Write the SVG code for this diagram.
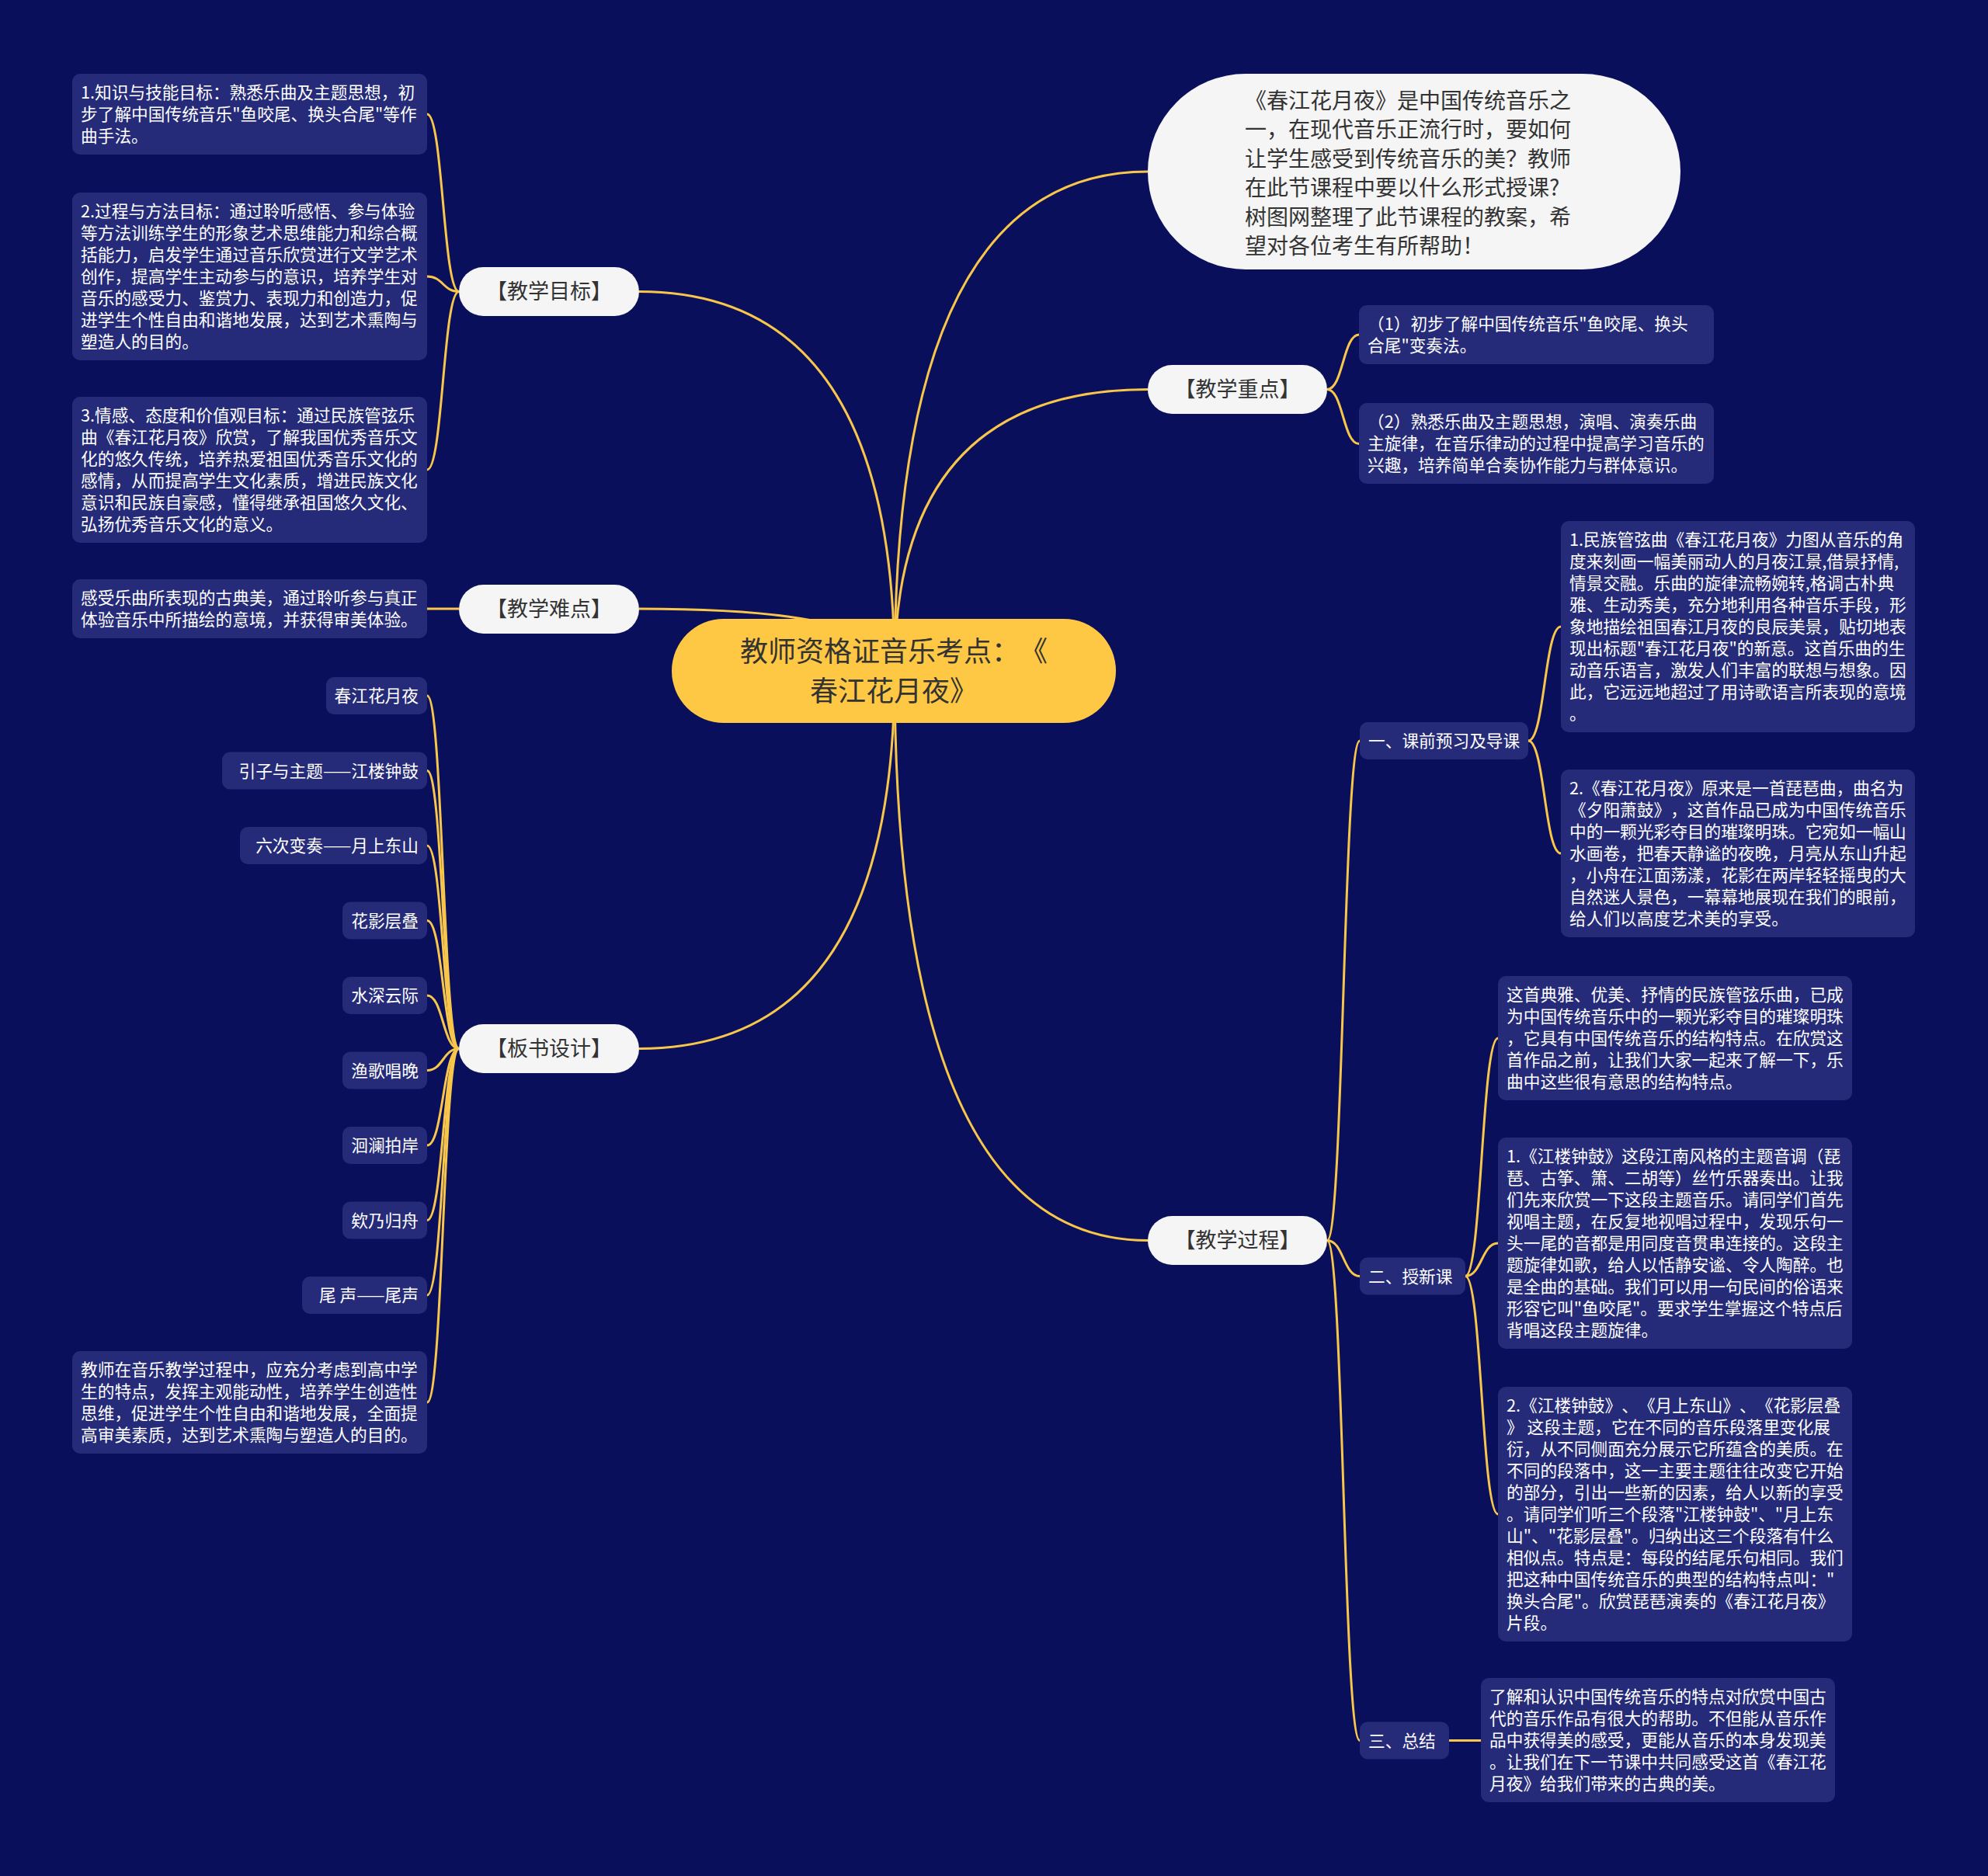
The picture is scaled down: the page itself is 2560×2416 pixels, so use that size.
<svg xmlns="http://www.w3.org/2000/svg" width="2560" height="2416" viewBox="0 0 2560 2416">
<style>
text{font-family:"Noto Sans CJK SC","Noto Sans",sans-serif;text-spacing-trim:space-all}
.box{fill:#252b78}
.bt{fill:#ffffff;font-size:21.7px}
.bte{fill:#ffffff;font-size:21.7px;text-anchor:end}
.mn{fill:#f5f5f5}
.mt{fill:#333333;font-size:27px;text-anchor:middle}
.ln{fill:none;stroke:#f7c64a;stroke-width:3}
</style>
<rect width="2560" height="2416" fill="#0a0f5b"/>
<g id="connectors">
<path class="ln" d="M1152,864 Q1152,221 1478,221"/>
<path class="ln" d="M1152,864 Q1152,501.5 1478,501.5"/>
<path class="ln" d="M1152,864 Q1152,1597.5 1478,1597.5"/>
<path class="ln" d="M1152,864 Q1152,375.5 823,375.5"/>
<path class="ln" d="M1152,864 Q1152,784 823,784"/>
<path class="ln" d="M1152,864 Q1152,1350.5 823,1350.5"/>
<path class="ln" d="M591,375.5 C570.5,375.5 570.5,147 550,147"/>
<path class="ln" d="M591,375.5 C570.5,375.5 570.5,356 550,356"/>
<path class="ln" d="M591,375.5 C570.5,375.5 570.5,605 550,605"/>
<path class="ln" d="M591,784 L550,784"/>
<path class="ln" d="M591,1350.5 C570.5,1350.5 570.5,896 550,896"/>
<path class="ln" d="M591,1350.5 C570.5,1350.5 570.5,992.5 550,992.5"/>
<path class="ln" d="M591,1350.5 C570.5,1350.5 570.5,1089 550,1089"/>
<path class="ln" d="M591,1350.5 C570.5,1350.5 570.5,1185.5 550,1185.5"/>
<path class="ln" d="M591,1350.5 C570.5,1350.5 570.5,1282 550,1282"/>
<path class="ln" d="M591,1350.5 C570.5,1350.5 570.5,1378.5 550,1378.5"/>
<path class="ln" d="M591,1350.5 C570.5,1350.5 570.5,1475 550,1475"/>
<path class="ln" d="M591,1350.5 C570.5,1350.5 570.5,1571.5 550,1571.5"/>
<path class="ln" d="M591,1350.5 C570.5,1350.5 570.5,1668 550,1668"/>
<path class="ln" d="M591,1350.5 C570.5,1350.5 570.5,1806 550,1806"/>
<path class="ln" d="M1709,501.5 C1729.5,501.5 1729.5,431 1750,431"/>
<path class="ln" d="M1709,501.5 C1729.5,501.5 1729.5,571.5 1750,571.5"/>
<path class="ln" d="M1709,1597.5 C1730,1597.5 1730,954 1751,954"/>
<path class="ln" d="M1709,1597.5 C1730,1597.5 1730,1643.5 1751,1643.5"/>
<path class="ln" d="M1709,1597.5 C1730,1597.5 1730,2241.5 1751,2241.5"/>
<path class="ln" d="M1968,954 C1989,954 1989,807 2010,807"/>
<path class="ln" d="M1968,954 C1989,954 1989,1099 2010,1099"/>
<path class="ln" d="M1887,1643.5 C1908,1643.5 1908,1337 1929,1337"/>
<path class="ln" d="M1887,1643.5 C1908,1643.5 1908,1601 1929,1601"/>
<path class="ln" d="M1887,1643.5 C1908,1643.5 1908,1950 1929,1950"/>
<path class="ln" d="M1866,2241.5 L1907,2241.5"/>
</g>

<g id="center">
<rect x="865" y="797" width="572" height="134" rx="67" fill="#ffc844"/>
<text x="1151" y="852" fill="#333333" font-size="36" text-anchor="middle">教师资格证音乐考点：《</text>
<text x="1151" y="903" fill="#333333" font-size="36" text-anchor="middle">春江花月夜》</text>
</g>

<g id="intro">
<rect x="1478" y="95" width="686" height="252" rx="126" class="mn"/>
<text fill="#333333" font-size="28">
<tspan x="1603" y="139.5">《春江花月夜》是中国传统音乐之</tspan>
<tspan x="1603" y="177">一，在现代音乐正流行时，要如何</tspan>
<tspan x="1603" y="214.5">让学生感受到传统音乐的美？教师</tspan>
<tspan x="1603" y="252">在此节课程中要以什么形式授课?</tspan>
<tspan x="1603" y="289.5">树图网整理了此节课程的教案，希</tspan>
<tspan x="1603" y="327">望对各位考生有所帮助！</tspan>
</text>
</g>

<g id="n-zhongdian">
<rect x="1478" y="470" width="231" height="63" rx="31.5" class="mn"/>
<text class="mt" x="1593.5" y="511">【教学重点】</text>
</g>
<g id="n-zhongdian-1">
<rect x="1750" y="393" width="457" height="76" rx="10" class="box"/>
<text class="bt"><tspan x="1761" y="425">（1）初步了解中国传统音乐"鱼咬尾、换头</tspan><tspan x="1761" y="453">合尾"变奏法。</tspan></text>
</g>
<g id="n-zhongdian-2">
<rect x="1750" y="519" width="457" height="104" rx="10" class="box"/>
<text class="bt"><tspan x="1761" y="551">（2）熟悉乐曲及主题思想，演唱、演奏乐曲</tspan><tspan x="1761" y="579">主旋律，在音乐律动的过程中提高学习音乐的</tspan><tspan x="1761" y="607">兴趣，培养简单合奏协作能力与群体意识。</tspan></text>
</g>

<g id="n-guocheng">
<rect x="1478" y="1566" width="231" height="63" rx="31.5" class="mn"/>
<text class="mt" x="1593.5" y="1607">【教学过程】</text>
</g>
<g id="n-yi">
<rect x="1751" y="930" width="217" height="48" rx="10" class="box"/>
<text class="bt" x="1762" y="962">一、课前预习及导课</text>
</g>
<g id="n-yi-1">
<rect x="2010" y="671" width="456" height="272" rx="10" class="box"/>
<text class="bt"><tspan x="2021" y="703">1.民族管弦曲《春江花月夜》力图从音乐的角</tspan><tspan x="2021" y="731">度来刻画一幅美丽动人的月夜江景,借景抒情,</tspan><tspan x="2021" y="759">情景交融。乐曲的旋律流畅婉转,格调古朴典</tspan><tspan x="2021" y="787">雅、生动秀美，充分地利用各种音乐手段，形</tspan><tspan x="2021" y="815">象地描绘祖国春江月夜的良辰美景，贴切地表</tspan><tspan x="2021" y="843">现出标题"春江花月夜"的新意。这首乐曲的生</tspan><tspan x="2021" y="871">动音乐语言，激发人们丰富的联想与想象。因</tspan><tspan x="2021" y="899">此，它远远地超过了用诗歌语言所表现的意境</tspan><tspan x="2021" y="927">。</tspan></text>
</g>
<g id="n-yi-2">
<rect x="2010" y="991" width="456" height="216" rx="10" class="box"/>
<text class="bt"><tspan x="2021" y="1023">2.《春江花月夜》原来是一首琵琶曲，曲名为</tspan><tspan x="2021" y="1051">《夕阳萧鼓》，这首作品已成为中国传统音乐</tspan><tspan x="2021" y="1079">中的一颗光彩夺目的璀璨明珠。它宛如一幅山</tspan><tspan x="2021" y="1107">水画卷，把春天静谧的夜晚，月亮从东山升起</tspan><tspan x="2021" y="1135">，小舟在江面荡漾，花影在两岸轻轻摇曳的大</tspan><tspan x="2021" y="1163">自然迷人景色，一幕幕地展现在我们的眼前，</tspan><tspan x="2021" y="1191">给人们以高度艺术美的享受。</tspan></text>
</g>
<g id="n-er">
<rect x="1751" y="1619.5" width="136" height="48" rx="10" class="box"/>
<text class="bt" x="1762" y="1651.5">二、授新课</text>
</g>
<g id="n-er-1">
<rect x="1929" y="1257" width="456" height="160" rx="10" class="box"/>
<text class="bt"><tspan x="1940" y="1289">这首典雅、优美、抒情的民族管弦乐曲，已成</tspan><tspan x="1940" y="1317">为中国传统音乐中的一颗光彩夺目的璀璨明珠</tspan><tspan x="1940" y="1345">，它具有中国传统音乐的结构特点。在欣赏这</tspan><tspan x="1940" y="1373">首作品之前，让我们大家一起来了解一下，乐</tspan><tspan x="1940" y="1401">曲中这些很有意思的结构特点。</tspan></text>
</g>
<g id="n-er-2">
<rect x="1929" y="1465" width="456" height="272" rx="10" class="box"/>
<text class="bt"><tspan x="1940" y="1497">1.《江楼钟鼓》这段江南风格的主题音调（琵</tspan><tspan x="1940" y="1525">琶、古筝、箫、二胡等）丝竹乐器奏出。让我</tspan><tspan x="1940" y="1553">们先来欣赏一下这段主题音乐。请同学们首先</tspan><tspan x="1940" y="1581">视唱主题，在反复地视唱过程中，发现乐句一</tspan><tspan x="1940" y="1609">头一尾的音都是用同度音贯串连接的。这段主</tspan><tspan x="1940" y="1637">题旋律如歌，给人以恬静安谧、令人陶醉。也</tspan><tspan x="1940" y="1665">是全曲的基础。我们可以用一句民间的俗语来</tspan><tspan x="1940" y="1693">形容它叫"鱼咬尾"。要求学生掌握这个特点后</tspan><tspan x="1940" y="1721">背唱这段主题旋律。</tspan></text>
</g>
<g id="n-er-3">
<rect x="1929" y="1786" width="456" height="328" rx="10" class="box"/>
<text class="bt"><tspan x="1940" y="1818">2.《江楼钟鼓》、《月上东山》、《花影层叠</tspan><tspan x="1940" y="1846">》 这段主题，它在不同的音乐段落里变化展</tspan><tspan x="1940" y="1874">衍，从不同侧面充分展示它所蕴含的美质。在</tspan><tspan x="1940" y="1902">不同的段落中，这一主要主题往往改变它开始</tspan><tspan x="1940" y="1930">的部分，引出一些新的因素，给人以新的享受</tspan><tspan x="1940" y="1958">。请同学们听三个段落"江楼钟鼓"、"月上东</tspan><tspan x="1940" y="1986">山"、"花影层叠"。归纳出这三个段落有什么</tspan><tspan x="1940" y="2014">相似点。特点是：每段的结尾乐句相同。我们</tspan><tspan x="1940" y="2042">把这种中国传统音乐的典型的结构特点叫："</tspan><tspan x="1940" y="2070">换头合尾"。欣赏琵琶演奏的《春江花月夜》</tspan><tspan x="1940" y="2098">片段。</tspan></text>
</g>
<g id="n-san">
<rect x="1751" y="2217.5" width="115" height="48" rx="10" class="box"/>
<text class="bt" x="1762" y="2249.5">三、总结</text>
</g>
<g id="n-san-1">
<rect x="1907" y="2161" width="456" height="160" rx="10" class="box"/>
<text class="bt"><tspan x="1918" y="2193">了解和认识中国传统音乐的特点对欣赏中国古</tspan><tspan x="1918" y="2221">代的音乐作品有很大的帮助。不但能从音乐作</tspan><tspan x="1918" y="2249">品中获得美的感受，更能从音乐的本身发现美</tspan><tspan x="1918" y="2277">。让我们在下一节课中共同感受这首《春江花</tspan><tspan x="1918" y="2305">月夜》给我们带来的古典的美。</tspan></text>
</g>

<g id="n-mubiao">
<rect x="591" y="344" width="232" height="63" rx="31.5" class="mn"/>
<text class="mt" x="707" y="385">【教学目标】</text>
</g>
<g id="n-mubiao-1">
<rect x="93" y="95" width="457" height="104" rx="10" class="box"/>
<text class="bt"><tspan x="104" y="127">1.知识与技能目标：熟悉乐曲及主题思想，初</tspan><tspan x="104" y="155">步了解中国传统音乐"鱼咬尾、换头合尾"等作</tspan><tspan x="104" y="183">曲手法。</tspan></text>
</g>
<g id="n-mubiao-2">
<rect x="93" y="248" width="457" height="216" rx="10" class="box"/>
<text class="bt"><tspan x="104" y="280">2.过程与方法目标：通过聆听感悟、参与体验</tspan><tspan x="104" y="308">等方法训练学生的形象艺术思维能力和综合概</tspan><tspan x="104" y="336">括能力，启发学生通过音乐欣赏进行文学艺术</tspan><tspan x="104" y="364">创作，提高学生主动参与的意识，培养学生对</tspan><tspan x="104" y="392">音乐的感受力、鉴赏力、表现力和创造力，促</tspan><tspan x="104" y="420">进学生个性自由和谐地发展，达到艺术熏陶与</tspan><tspan x="104" y="448">塑造人的目的。</tspan></text>
</g>
<g id="n-mubiao-3">
<rect x="93" y="511" width="457" height="188" rx="10" class="box"/>
<text class="bt"><tspan x="104" y="543">3.情感、态度和价值观目标：通过民族管弦乐</tspan><tspan x="104" y="571">曲《春江花月夜》欣赏，了解我国优秀音乐文</tspan><tspan x="104" y="599">化的悠久传统，培养热爱祖国优秀音乐文化的</tspan><tspan x="104" y="627">感情，从而提高学生文化素质，增进民族文化</tspan><tspan x="104" y="655">意识和民族自豪感，懂得继承祖国悠久文化、</tspan><tspan x="104" y="683">弘扬优秀音乐文化的意义。</tspan></text>
</g>

<g id="n-nandian">
<rect x="591" y="753" width="232" height="63" rx="31.5" class="mn"/>
<text class="mt" x="707" y="794">【教学难点】</text>
</g>
<g id="n-nandian-1">
<rect x="93" y="746" width="457" height="76" rx="10" class="box"/>
<text class="bt"><tspan x="104" y="778">感受乐曲所表现的古典美，通过聆听参与真正</tspan><tspan x="104" y="806">体验音乐中所描绘的意境，并获得审美体验。</tspan></text>
</g>

<g id="n-banshu">
<rect x="591" y="1319" width="232" height="63" rx="31.5" class="mn"/>
<text class="mt" x="707" y="1360">【板书设计】</text>
</g>
<g id="n-banshu-1"><rect x="420" y="872" width="130" height="48" rx="10" class="box"/><text class="bte" x="539" y="904">春江花月夜</text></g>
<g id="n-banshu-2"><rect x="286" y="968.5" width="264" height="48" rx="10" class="box"/><text class="bte" x="539" y="1000.5">引子与主题——江楼钟鼓</text></g>
<g id="n-banshu-3"><rect x="309" y="1065" width="241" height="48" rx="10" class="box"/><text class="bte" x="539" y="1097">六次变奏——月上东山</text></g>
<g id="n-banshu-4"><rect x="441" y="1161.5" width="109" height="48" rx="10" class="box"/><text class="bte" x="539" y="1193.5">花影层叠</text></g>
<g id="n-banshu-5"><rect x="441" y="1258" width="109" height="48" rx="10" class="box"/><text class="bte" x="539" y="1290">水深云际</text></g>
<g id="n-banshu-6"><rect x="441" y="1354.5" width="109" height="48" rx="10" class="box"/><text class="bte" x="539" y="1386.5">渔歌唱晚</text></g>
<g id="n-banshu-7"><rect x="441" y="1451" width="109" height="48" rx="10" class="box"/><text class="bte" x="539" y="1483">洄澜拍岸</text></g>
<g id="n-banshu-8"><rect x="441" y="1547.5" width="109" height="48" rx="10" class="box"/><text class="bte" x="539" y="1579.5">欸乃归舟</text></g>
<g id="n-banshu-9"><rect x="389" y="1644" width="161" height="48" rx="10" class="box"/><text class="bte" x="539" y="1676">尾 声——尾声</text></g>
<g id="n-banshu-10">
<rect x="93" y="1740" width="457" height="132" rx="10" class="box"/>
<text class="bt"><tspan x="104" y="1772">教师在音乐教学过程中，应充分考虑到高中学</tspan><tspan x="104" y="1800">生的特点，发挥主观能动性，培养学生创造性</tspan><tspan x="104" y="1828">思维，促进学生个性自由和谐地发展，全面提</tspan><tspan x="104" y="1856">高审美素质，达到艺术熏陶与塑造人的目的。</tspan></text>
</g>
</svg>
